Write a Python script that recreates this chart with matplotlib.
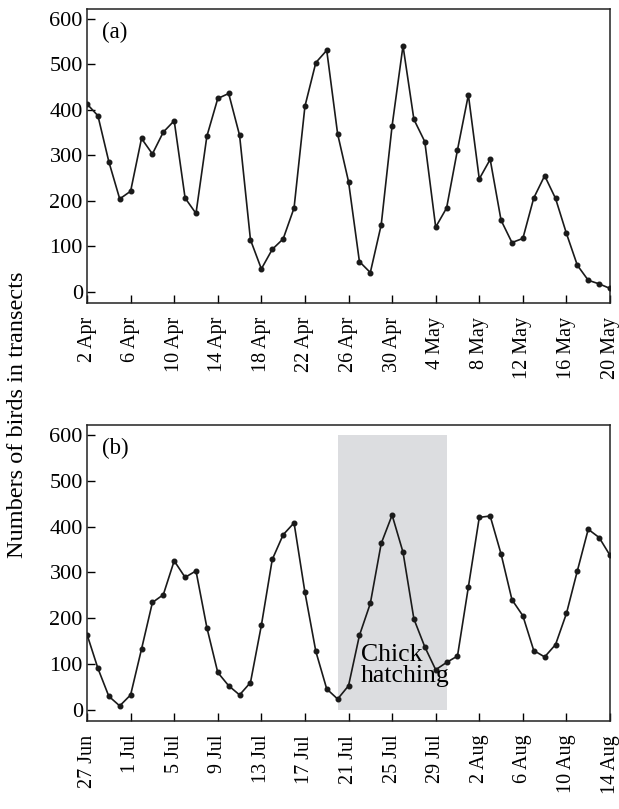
#!/usr/bin/env python3
"""
Daily bird counts in transects, two survey periods (a) Apr-May and (b) Jun-Aug.
"""
import numpy as np
import matplotlib
matplotlib.use("Agg")
import matplotlib.pyplot as plt
from matplotlib.patches import Rectangle

plt.rcParams["font.family"] = ["Liberation Serif", "DejaVu Serif"]
plt.rcParams["font.size"] = 14

# -----------------------
# Data (one count per day)
# -----------------------
counts_a = [413, 387, 286, 204, 221, 337, 303, 351, 376, 206,
            172, 342, 425, 436, 344, 114, 50, 93, 116, 184,
            408, 504, 531, 347, 242, 66, 42, 147, 365, 541,
            379, 330, 142, 184, 312, 433, 248, 291, 157, 108,
            117, 206, 255, 205, 128, 58, 25, 17, 7]
ticks_a = ["2 Apr", "6 Apr", "10 Apr", "14 Apr", "18 Apr", "22 Apr", "26 Apr",
           "30 Apr", "4 May", "8 May", "12 May", "16 May", "20 May"]

counts_b = [164, 90, 29, 8, 32, 132, 234, 251, 325, 289,
            303, 179, 81, 52, 32, 59, 184, 328, 382, 408,
            256, 127, 45, 23, 52, 162, 232, 363, 425, 344,
            198, 137, 87, 103, 117, 268, 420, 423, 340, 240,
            205, 129, 115, 142, 210, 303, 394, 376, 337]
ticks_b = ["27 Jun", "1 Jul", "5 Jul", "9 Jul", "13 Jul", "17 Jul", "21 Jul",
           "25 Jul", "29 Jul", "2 Aug", "6 Aug", "10 Aug", "14 Aug"]

# chick hatching period (day index from 27 Jun) and its label
hatch_start, hatch_end = 23, 33
hatch_label = "Chick\nhatching"

LINE_COLOR = "#1a1a1a"
SHADE_COLOR = "#dcdde0"


def style_axes(ax, ticklabels):
    n = len(counts_a)
    ax.set_xlim(0, n - 1)
    ax.set_ylim(-25, 622)
    ax.set_xticks(np.arange(0, n, 4))
    ax.set_xticklabels(ticklabels, rotation=90, fontsize=14.5)
    ax.set_yticks(np.arange(0, 601, 100))
    ax.tick_params(direction="in", length=6, width=1, top=False, right=False,
                   pad=3)
    ax.tick_params(axis="y", labelsize=16)
    ax.tick_params(axis="x", pad=10)
    for sp in ax.spines.values():
        sp.set_linewidth(1.1)
        sp.set_color("#222222")


def draw_series(ax, values):
    x = np.arange(len(values))
    ax.plot(x, values, color=LINE_COLOR, lw=1.2, marker="o", ms=3.3,
            zorder=3)


fig = plt.figure(figsize=(6.19, 8.09), dpi=100)
ax_a = fig.add_axes([0.1406, 0.6255, 0.8449, 0.3634])
ax_b = fig.add_axes([0.1406, 0.1088, 0.8449, 0.3659])

# (a)
draw_series(ax_a, counts_a)
style_axes(ax_a, ticks_a)
ax_a.text(1.4, 570, "(a)", fontsize=16.5, va="center", ha="left")

# (b)
ax_b.add_patch(Rectangle((hatch_start, 0), hatch_end - hatch_start, 600,
                         facecolor=SHADE_COLOR, edgecolor="none", zorder=1))
draw_series(ax_b, counts_b)
style_axes(ax_b, ticks_b)
ax_b.text(1.4, 570, "(b)", fontsize=16.5, va="center", ha="left")
ax_b.text(hatch_start + 2.15, 96, hatch_label, fontsize=18.5, va="center",
          ha="left", linespacing=0.95, zorder=4)

fig.text(0.029, 0.487, "Numbers of birds in transects", rotation=90,
         ha="center", va="center", fontsize=17.5)

fig.savefig("out.png", dpi=100)
